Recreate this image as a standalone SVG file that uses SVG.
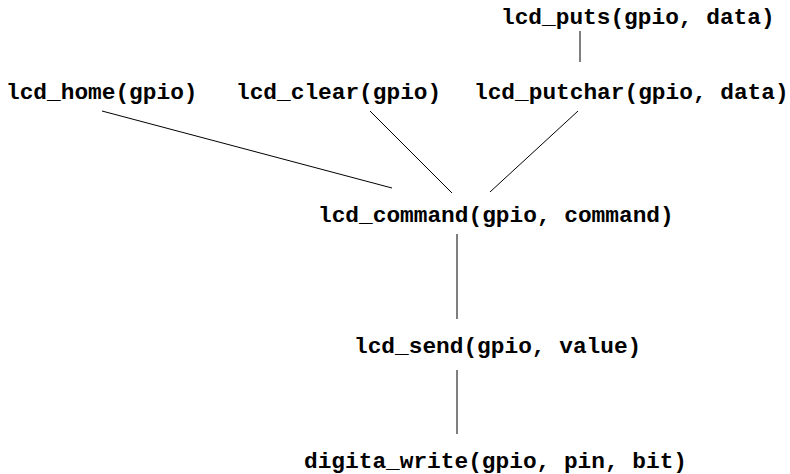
<svg xmlns="http://www.w3.org/2000/svg" width="790" height="474" viewBox="0 0 790 474">
<style>
text{font-family:"Liberation Mono","Courier New",monospace;font-weight:bold;font-size:22.8px;fill:#000}
.c line{stroke:#000;stroke-width:1}
.c line.v{stroke:#555;stroke-width:1.5}
</style>
<rect width="790" height="474" fill="#fff"/>
<g class="c" id="connectors">
<line x1="580" y1="31" x2="580" y2="62"/>
<line x1="102" y1="111" x2="392" y2="188"/>
<line x1="370" y1="111" x2="452" y2="193"/>
<line x1="578" y1="111" x2="490" y2="192"/>
<line class="v" x1="457" y1="234" x2="457" y2="319"/>
<line class="v" x1="457" y1="370" x2="457" y2="434"/>
</g>
<g id="lcd_puts"><text x="501" y="24">lcd_puts(gpio, data)</text></g>
<g id="lcd_home"><text x="6" y="99">lcd_home(gpio)</text></g>
<g id="lcd_clear"><text x="236" y="99">lcd_clear(gpio)</text></g>
<g id="lcd_putchar"><text x="474" y="99">lcd_putchar(gpio, data)</text></g>
<g id="lcd_command"><text x="318" y="222">lcd_command(gpio, command)</text></g>
<g id="lcd_send"><text x="354" y="353">lcd_send(gpio, value)</text></g>
<g id="digita_write"><text x="304" y="468">digita_write(gpio, pin, bit)</text></g>
</svg>
